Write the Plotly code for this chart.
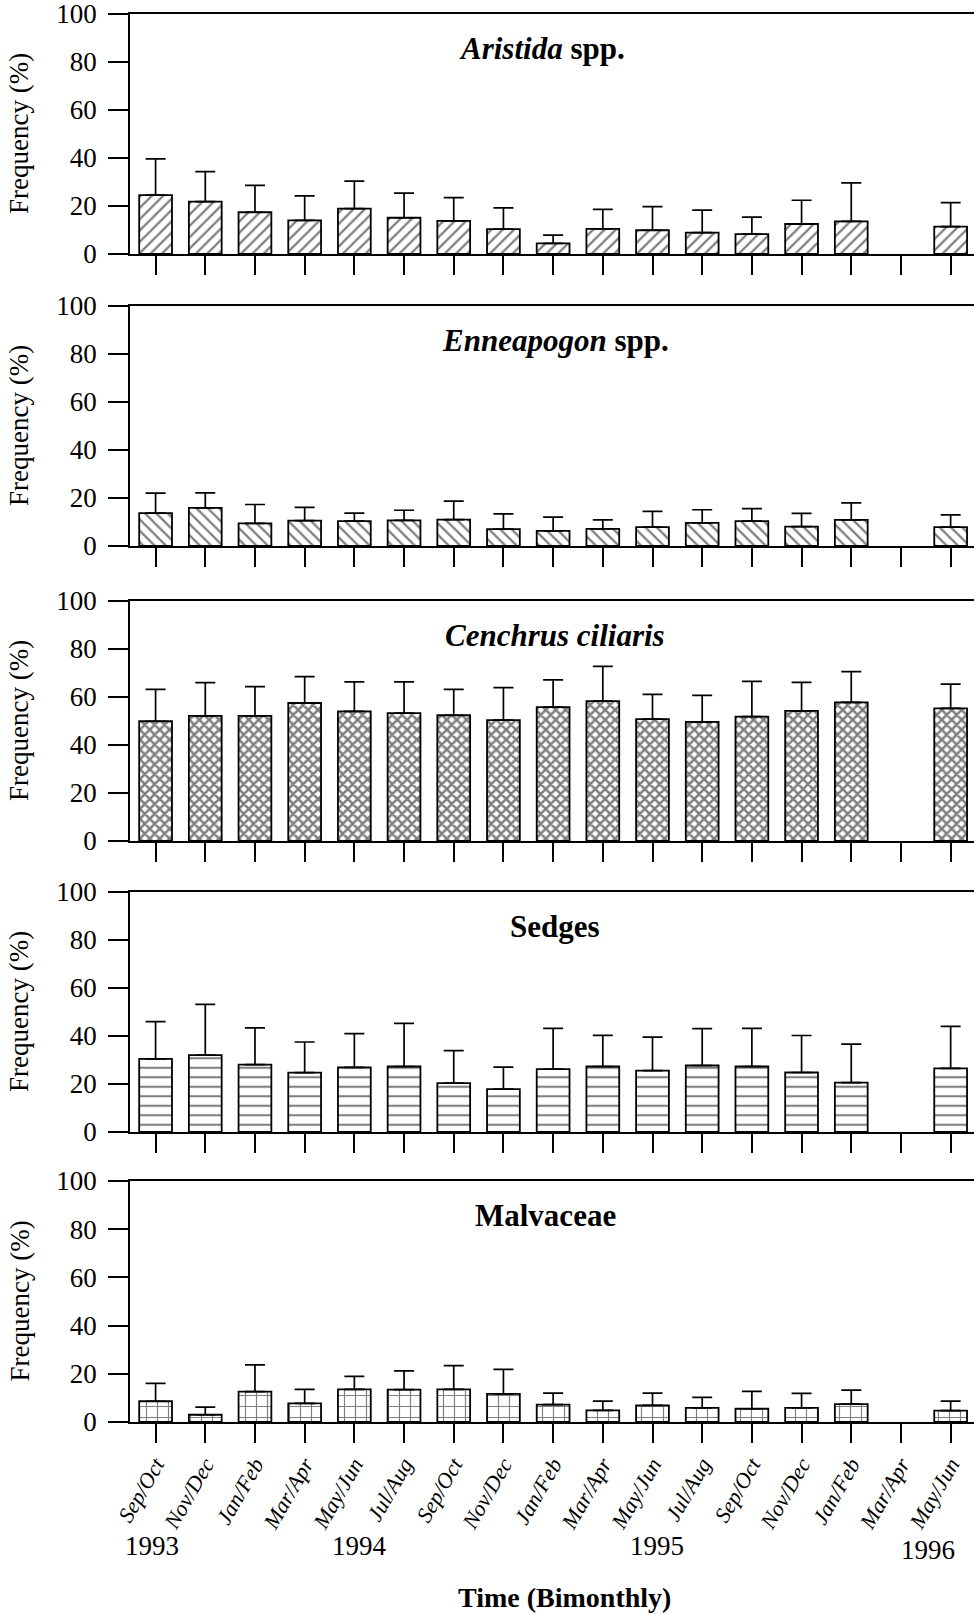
import plotly.graph_objects as go

# Bimonthly sampling periods (Sep/Oct 1993 .. May/Jun 1996)
periods = ["Sep/Oct", "Nov/Dec", "Jan/Feb", "Mar/Apr", "May/Jun", "Jul/Aug",
           "Sep/Oct", "Nov/Dec", "Jan/Feb", "Mar/Apr", "May/Jun", "Jul/Aug",
           "Sep/Oct", "Nov/Dec", "Jan/Feb", "Mar/Apr", "May/Jun"]
years = ["1993", "1994", "1995", "1996"]
year_pos = [-0.07, 4.1, 10.1, 15.55]

# Mean frequency (%) and standard error per period; None = not sampled
aristida_mean = [24.5, 21.8, 17.4, 14.0, 18.9, 15.1, 13.8, 10.4, 4.4, 10.5, 9.9, 8.9, 8.3, 12.5, 13.6, None, 11.4]
aristida_se = [15.1, 12.5, 11.2, 10.2, 11.5, 10.3, 9.7, 8.8, 3.5, 8.1, 9.8, 9.4, 7.1, 9.9, 16.0, None, 10.0]

enneapogon_mean = [13.7, 15.9, 9.4, 10.6, 10.4, 10.7, 11.0, 7.0, 6.3, 7.1, 7.9, 9.6, 10.4, 8.1, 10.9, None, 7.9]
enneapogon_se = [8.3, 6.2, 7.9, 5.5, 3.3, 4.2, 7.7, 6.4, 5.7, 3.8, 6.5, 5.5, 5.2, 5.5, 7.1, None, 5.1]

cenchrus_mean = [49.9, 52.1, 52.1, 57.5, 54.0, 53.3, 52.4, 50.4, 55.8, 58.3, 50.8, 49.6, 51.8, 54.2, 57.8, None, 55.3]
cenchrus_se = [13.3, 13.9, 12.2, 11.0, 12.3, 13.0, 10.8, 13.5, 11.3, 14.5, 10.3, 11.1, 14.7, 11.9, 12.8, None, 10.1]

sedges_mean = [30.5, 32.0, 28.1, 24.7, 26.9, 27.3, 20.4, 17.9, 26.2, 27.3, 25.6, 27.7, 27.3, 24.8, 20.6, None, 26.5]
sedges_se = [15.5, 21.2, 15.3, 12.8, 14.1, 18.0, 13.5, 9.1, 17.0, 13.0, 13.9, 15.4, 15.9, 15.4, 16.0, None, 17.5]

malvaceae_mean = [8.6, 3.0, 12.6, 7.7, 13.5, 13.4, 13.5, 11.7, 7.2, 4.8, 6.9, 5.9, 5.5, 5.9, 7.4, None, 4.7]
malvaceae_se = [7.4, 3.2, 11.1, 5.8, 5.4, 7.8, 9.9, 10.1, 4.8, 3.9, 5.1, 4.3, 7.2, 6.0, 5.8, None, 4.0]

panel_titles = ["<b><i>Aristida</i> spp.</b>", "<b><i>Enneapogon</i> spp.</b>",
                "<b><i>Cenchrus ciliaris</i></b>", "<b>Sedges</b>", "<b>Malvaceae</b>"]
title_x_px = [542, 555, 555, 555, 545]

means = [aristida_mean, enneapogon_mean, cenchrus_mean, sedges_mean, malvaceae_mean]
errors = [aristida_se, enneapogon_se, cenchrus_se, sedges_se, malvaceae_se]
patterns = [dict(shape="/", size=8, solidity=0.28),
            dict(shape="\\", size=8, solidity=0.28),
            dict(shape="x", size=7, solidity=0.6),
            dict(shape="-", size=9.5, solidity=0.22),
            dict(shape="+", size=11, solidity=0.2)]

W, H = 974, 1614
ML, MT, MB = 130, 14, 192
plot_h = H - MT - MB
# Panel (top, bottom) in pixels
panels_px = [(14, 254), (306, 546), (601, 841), (892, 1132), (1181, 1422)]


def py(px):
    return (H - MB - px) / plot_h


def px_x(px):
    return (px - ML) / (W - ML)


FONT = "Liberation Serif"
x = list(range(len(periods)))
xrange_ = [-0.515, 16.47]

fig = go.Figure()
annotations = []
for i in range(5):
    n = "" if i == 0 else str(i + 1)
    fig.add_trace(go.Bar(
        x=x, y=means[i],
        xaxis="x" + n, yaxis="y" + n,
        width=0.66,
        marker=dict(color="white", line=dict(color="black", width=1.8),
                    pattern=dict(fgcolor="black", bgcolor="white", fillmode="overlay", **patterns[i])),
        error_y=dict(type="data", symmetric=False, array=errors[i],
                     arrayminus=[0] * len(x), color="black", thickness=1.7, width=10),
        showlegend=False,
    ))
    top, bot = panels_px[i]
    last = i == 4
    fig.update_layout({
        "xaxis" + n: dict(
            domain=[0, 1], anchor="y" + n, range=xrange_,
            tickmode="array", tickvals=x,
            ticktext=periods if last else [""] * len(x),
            showticklabels=last, tickangle=-60,
            tickfont=dict(family=FONT, size=22, color="black", style="italic"),
            ticks="outside", ticklen=19, tickwidth=1.6, tickcolor="black",
            showline=True, linecolor="black", linewidth=1.6, mirror=True,
            showgrid=False, zeroline=False,
        ),
        "yaxis" + n: dict(
            domain=[py(bot), py(top)], anchor="x" + n, range=[0, 100],
            tickmode="linear", tick0=0, dtick=20,
            tickfont=dict(family=FONT, size=27, color="black"),
            ticks="outside", ticklen=20, tickwidth=1.6, tickcolor="black",
            ticklabelstandoff=6, ticklabeloverflow="allow",
            showline=True, linecolor="black", linewidth=1.6,
            showgrid=False, zeroline=False,
        ),
    })
    annotations.append(dict(
        text=panel_titles[i], xref="paper", yref="paper",
        x=px_x(title_x_px[i]), y=py(top + 34), xanchor="center", yanchor="middle",
        showarrow=False, font=dict(family=FONT, size=31, color="black"),
    ))
    annotations.append(dict(
        text="Frequency (%)", xref="paper", yref="paper",
        x=px_x(19), y=py((top + bot) / 2), xanchor="center", yanchor="middle",
        textangle=-90, showarrow=False, font=dict(family=FONT, size=27, color="black"),
    ))

for yr, pos in zip(years, year_pos):
    annotations.append(dict(
        text=yr, xref="x5", yref="paper", x=pos,
        y=py(1550 if yr == "1996" else 1546), xanchor="center", yanchor="middle",
        showarrow=False, font=dict(family=FONT, size=27, color="black"),
    ))

annotations.append(dict(
    text="<b>Time (Bimonthly)</b>", xref="paper", yref="paper",
    x=px_x(564), y=py(1597), xanchor="center", yanchor="middle",
    showarrow=False, font=dict(family=FONT, size=28, color="black"),
))

fig.update_layout(
    width=W, height=H,
    margin=dict(l=ML, r=0, t=MT, b=MB, autoexpand=False),
    paper_bgcolor="white", plot_bgcolor="white",
    bargap=0.34, annotations=annotations,
    font=dict(family=FONT, color="black"),
)

fig.write_html("out.html")
